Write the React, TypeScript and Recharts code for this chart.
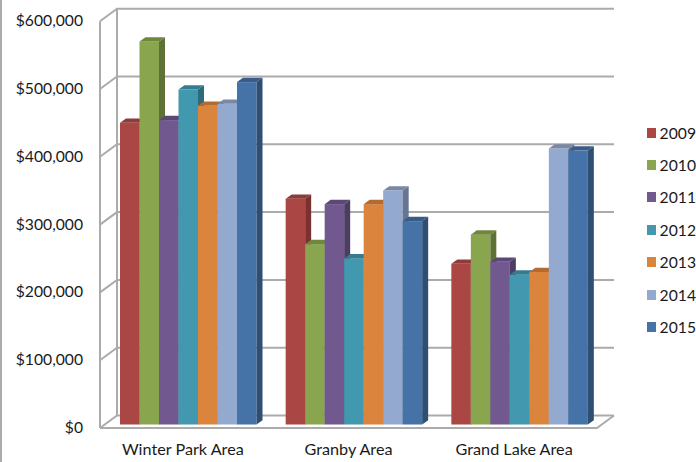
import { BarChart, Bar, XAxis, YAxis, CartesianGrid, Legend } from "recharts";

const areas = ["Winter Park Area", "Granby Area", "Grand Lake Area"];
const years = ["2009", "2010", "2011", "2012", "2013", "2014", "2015"];

const y2009 = [445000, 333000, 237000];
const y2010 = [565000, 266000, 280000];
const y2011 = [449000, 325000, 240000];
const y2012 = [494000, 245000, 221000];
const y2013 = [470000, 325000, 225000];
const y2014 = [473000, 345000, 407000];
const y2015 = [505000, 300000, 404000];
const series = [y2009, y2010, y2011, y2012, y2013, y2014, y2015];

const yTicks = [0, 100000, 200000, 300000, 400000, 500000, 600000];

const frontColors = ["#AA4643", "#89A54E", "#71588F", "#4198AF", "#DB843D", "#93A9CF", "#4572A7"];
const topColors = ["#8F3B39", "#6F863F", "#5C4875", "#347C90", "#B36B32", "#7889A8", "#385D89"];
const sideColors = ["#7A3230", "#5E7237", "#4D3C63", "#2D6A7A", "#985C2A", "#667591", "#2F4E74"];

const rows = areas.map((area, i) => {
  const row: Record<string, string | number> = { area };
  years.forEach((year, s) => {
    row[year] = series[s][i];
  });
  return row;
});

const FONT = "Lato, sans-serif";
const GRID = "#ababab";
// oblique offsets of the fake 3D: bars, and the wall behind them
const BAR_DX = 6;
const BAR_DY = 4.3;
const WALL_DX = 12;
const WALL_DY = 9;
const FRONT_DX = 5;
const FRONT_DY = 3.5;

function Bar3D(props: any) {
  const { x, y, width, height, index, seriesIndex } = props;
  if (index === undefined) return null;
  const r = x + width;
  const b = y + height;
  return (
    <g>
      <rect x={x} y={y} width={width} height={height} fill={frontColors[seriesIndex]} />
      <polygon
        points={`${x},${y} ${x + BAR_DX},${y - BAR_DY} ${r + BAR_DX},${y - BAR_DY} ${r},${y}`}
        fill={topColors[seriesIndex]}
      />
      <polygon
        points={`${r},${y} ${r + BAR_DX},${y - BAR_DY} ${r + BAR_DX},${b - BAR_DY} ${r},${b}`}
        fill={sideColors[seriesIndex]}
      />
    </g>
  );
}

// one rung of the back wall, bending round to the front on the left
function GridRung(props: any) {
  const { x1, x2, y1, key } = props;
  const left = x1 - FRONT_DX;
  const front = y1 + FRONT_DY;
  const backX = x1 + WALL_DX;
  const backY = y1 - WALL_DY;
  const d = `M${left},${front} L${backX},${backY} L${x2 + WALL_DX},${backY}`;
  const isFloor = Math.abs(y1 - props.floorY) < 1;
  return (
    <g key={key}>
      <path d={d} fill="none" stroke={GRID} strokeWidth={2} />
      {isFloor && (
        <path
          d={`M${left},${front} L${x2 - FRONT_DX},${front} L${x2 + WALL_DX},${backY}`}
          fill="none"
          stroke={GRID}
          strokeWidth={2}
        />
      )}
    </g>
  );
}

function WallEdges(props: any) {
  const { x1, y1, y2, key } = props;
  return (
    <g key={key}>
      <line x1={x1 - FRONT_DX} x2={x1 - FRONT_DX} y1={y1 + FRONT_DY} y2={y2 + FRONT_DY} stroke={GRID} strokeWidth={2} />
      <line x1={x1 + WALL_DX} x2={x1 + WALL_DX} y1={y1 - WALL_DY} y2={y2 - WALL_DY} stroke={GRID} strokeWidth={2} />
    </g>
  );
}

function YTick(props: any) {
  const { x, y, payload } = props;
  return (
    <text x={x - 14} y={y + 8.5} textAnchor="end" fontFamily={FONT} fontSize={15.7} fill="#1a1a1a">
      {"$" + payload.value.toLocaleString("en-US")}
    </text>
  );
}

function XTick(props: any) {
  const { x, y, payload } = props;
  return (
    <text x={x - 5} y={y + 22} textAnchor="middle" fontFamily={FONT} fontSize={16.2} fill="#1a1a1a">
      {payload.value}
    </text>
  );
}

function YearLegend() {
  return (
    <div style={{ fontFamily: FONT, fontSize: 15.7, color: "#1a1a1a" }}>
      {years.map((year, i) => (
        <div key={year} style={{ display: "flex", alignItems: "center", height: 32.4 }}>
          <span style={{ width: 10, height: 10, background: frontColors[i], marginRight: 4 }} />
          {year}
        </div>
      ))}
    </div>
  );
}

export default function App() {
  const chartW = 696;
  const chartH = 462;
  const floorY = 424.5;
  return (
    <div style={{ position: "absolute", left: 0, top: 0, width: chartW, height: chartH, overflow: "hidden", background: "#fff" }}>
      <div style={{ position: "absolute", left: 0, top: 0, width: 2, height: chartH, background: GRID }} />
      <BarChart
        width={chartW}
        height={chartH}
        data={rows}
        margin={{ top: 17.7, right: 45, bottom: 0, left: 0 }}
        barSize={19.5}
        barGap={0}
      >
        <CartesianGrid
          horizontal={(p: any) => <GridRung {...p} floorY={floorY} />}
          vertical={(p: any) => <WallEdges {...p} />}
          verticalPoints={[105]}
          syncWithTicks
        />
        <XAxis dataKey="area" axisLine={false} tickLine={false} height={37.5} tick={<XTick />} interval={0} />
        <YAxis
          domain={[0, 600000]}
          ticks={yTicks}
          width={105}
          axisLine={false}
          tickLine={false}
          tick={<YTick />}
          interval={0}
        />
        <Legend
          content={<YearLegend />}
          layout="vertical"
          align="right"
          verticalAlign="top"
          wrapperStyle={{ position: "absolute", left: 647, top: 116.5, width: 49 }}
        />
        {years.map((year, s) => (
          <Bar
            key={year}
            dataKey={year}
            isAnimationActive={false}
            fill={frontColors[s]}
            shape={(p: any) => <Bar3D {...p} seriesIndex={s} />}
          />
        ))}
      </BarChart>
    </div>
  );
}
